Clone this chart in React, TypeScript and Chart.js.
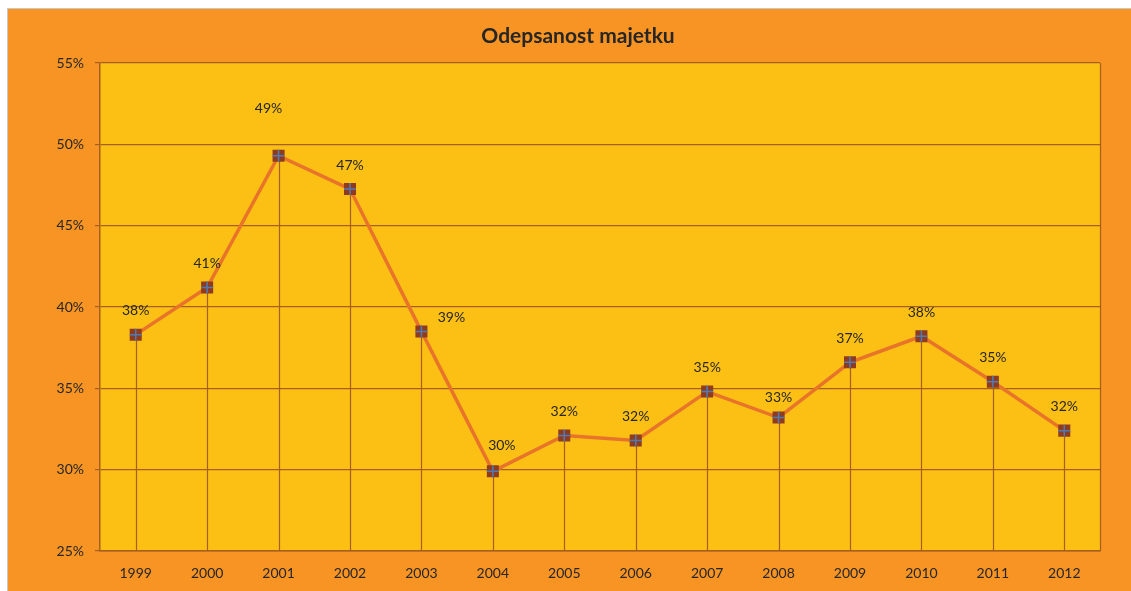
import React, { useEffect, useRef } from "react";
import { Chart, registerables } from "chart.js";

Chart.register(...registerables);

const years = ["1999", "2000", "2001", "2002", "2003", "2004", "2005", "2006", "2007", "2008", "2009", "2010", "2011", "2012"];
const values = [38.3, 41.2, 49.3, 47.25, 38.5, 29.9, 32.1, 31.8, 34.8, 33.2, 36.6, 38.2, 35.4, 32.4];
const labels = ["38%", "41%", "49%", "47%", "39%", "30%", "32%", "32%", "35%", "33%", "37%", "38%", "35%", "32%"];
const yTicks = [25, 30, 35, 40, 45, 50, 55];

const FONT = "Lato, 'Open Sans', sans-serif";
const GRID = "#A65F1C";
const PLOT_BG = "#FCBF14";
const OUTER_BG = "#F79424";
const TEXT = "#262626";

const labelShift: Record<number, [number, number]> = {
  2: [-10, -47],
  4: [30, -14],
  5: [9, -26],
  9: [0, -20],
};

const decor = {
  id: "decor",
  beforeDraw(chart: any) {
    const { ctx, chartArea: a } = chart;
    ctx.save();
    ctx.fillStyle = PLOT_BG;
    ctx.fillRect(a.left, a.top, a.right - a.left, a.bottom - a.top);
    ctx.restore();
  },
  beforeDatasetsDraw(chart: any) {
    const { ctx, chartArea: a } = chart;
    const meta = chart.getDatasetMeta(0);
    ctx.save();
    ctx.strokeStyle = GRID;
    ctx.lineWidth = 1.2;
    meta.data.forEach((p: any) => {
      const x = Math.round(p.x) + 0.5;
      ctx.beginPath();
      ctx.moveTo(x, p.y);
      ctx.lineTo(x, a.bottom);
      ctx.stroke();
    });
    ctx.beginPath();
    ctx.moveTo(Math.round(a.right) + 0.5, a.top);
    ctx.lineTo(Math.round(a.right) + 0.5, a.bottom);
    ctx.stroke();
    ctx.restore();
  },
  afterDatasetsDraw(chart: any) {
    const { ctx } = chart;
    const meta = chart.getDatasetMeta(0);
    ctx.save();
    meta.data.forEach((p: any, i: number) => {
      ctx.strokeStyle = "#4F7BB5";
      ctx.lineWidth = 1.5;
      ctx.beginPath();
      ctx.moveTo(p.x - 6, p.y);
      ctx.lineTo(p.x + 6, p.y);
      ctx.moveTo(p.x, p.y - 6);
      ctx.lineTo(p.x, p.y + 6);
      ctx.stroke();
      const s = labelShift[i] || [0, -24];
      ctx.fillStyle = TEXT;
      ctx.font = `14px ${FONT}`;
      ctx.textAlign = "center";
      ctx.textBaseline = "middle";
      ctx.fillText(labels[i], p.x + s[0], p.y + s[1]);
    });
    ctx.font = `bold 21px ${FONT}`;
    ctx.fillStyle = TEXT;
    ctx.textAlign = "center";
    ctx.textBaseline = "middle";
    ctx.fillText("Odepsanost majetku", 570, 27);
    ctx.restore();
  },
};

export default function App() {
  const ref = useRef<HTMLCanvasElement>(null);
  useEffect(() => {
    if (!ref.current) return;
    const chart = new Chart(ref.current, {
      type: "line",
      data: {
        labels: years,
        datasets: [
          {
            data: values,
            borderColor: "#E8742A",
            borderWidth: 3.5,
            pointStyle: "rect",
            pointRadius: 8.5,
            pointBackgroundColor: "#8E3B1F",
            pointBorderWidth: 0,
            pointBorderColor: "#8E3B1F",
            tension: 0,
          },
        ],
      },
      options: {
        animation: false,
        responsive: false,
        events: [],
        layout: { padding: { top: 54, right: 31, left: 0, bottom: 0 } },
        plugins: { legend: { display: false }, title: { display: false }, tooltip: { enabled: false } },
        scales: {
          x: {
            offset: true,
            grid: { display: false, drawTicks: false },
            border: { display: true, color: GRID, width: 1.5 },
            ticks: { color: TEXT, font: { family: FONT, size: 14 }, padding: 14, maxRotation: 0 },
            afterFit: (s: any) => {
              s.height = 40;
            },
          },
          y: {
            min: 25,
            max: 55,
            afterBuildTicks: (s: any) => {
              s.ticks = yTicks.map((v) => ({ value: v }));
            },
            grid: { color: GRID, lineWidth: 1.2, tickLength: 5 },
            border: { display: true, color: GRID, width: 1.5 },
            ticks: {
              color: TEXT,
              font: { family: FONT, size: 14 },
              padding: 11,
              callback: (v: any) => `${v}%`,
            },
            afterFit: (s: any) => {
              s.width = 92;
            },
          },
        },
      },
      plugins: [decor],
    });
    return () => chart.destroy();
  }, []);
  return (
    <div
      style={{
        position: "absolute",
        left: 7,
        top: 8,
        width: 1124,
        height: 583,
        background: OUTER_BG,
        borderTop: "1px solid #c8c8c8",
        borderLeft: "1px solid #c8c8c8",
        boxSizing: "border-box",
      }}
    >
      <canvas ref={ref} width={1123} height={582} style={{ display: "block" }} />
    </div>
  );
}
